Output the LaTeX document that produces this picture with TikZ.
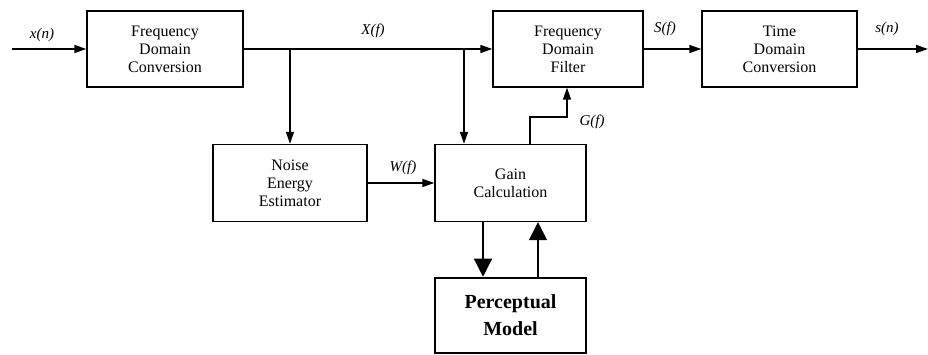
\documentclass[tikz,border=0pt]{standalone}
\usepackage{fontspec}
\setmainfont{Liberation Serif}
\usepackage{tikz}
\usetikzlibrary{arrows.meta,positioning}

\begin{document}
\begin{tikzpicture}[x=1pt, y=-1pt,
  every node/.style={font=\fontsize{16}{18}\selectfont},
  block/.style={draw, line width=1.4pt, align=center, inner sep=0pt},
  sig/.style={font=\fontsize{15}{17}\selectfont\itshape},
  flow/.style={line width=1.4pt, -{Triangle[length=12pt,width=8pt]}},
  bigflow/.style={line width=1.4pt, -{Triangle[length=18pt,width=18pt]}}]
\useasboundingbox (0,0) rectangle (928,355);
% Blocks, top row
\node[block, minimum width=156pt, minimum height=76pt] (fdc) at (165,49) {Frequency\\Domain\\Conversion};
\node[block, minimum width=150pt, minimum height=76pt] (fdf) at (568,49) {Frequency\\Domain\\Filter};
\node[block, minimum width=155pt, minimum height=76pt] (tdc) at (779.5,49) {Time\\Domain\\Conversion};
% Blocks, middle row
\node[block, minimum width=154pt, minimum height=77pt] (nee) at (290,183) {Noise\\Energy\\Estimator};
\node[block, minimum width=151pt, minimum height=77pt] (gain) at (510.5,183) {Gain\\Calculation};
% Perceptual model
\node[block, line width=2.6pt, minimum width=151pt, minimum height=75pt,
  font=\fontsize{20}{27}\selectfont\bfseries] (pm) at (510.5,315.5) {Perceptual\\Model};
% Free ends and corners
\coordinate (in) at (12,49);
\coordinate (out) at (928,49);
\coordinate (b2) at (464,49);
\coordinate (g1) at (530,117);
\coordinate (g2) at (567,117);
\coordinate (p1) at (483,0);
\coordinate (p2) at (538,0);
% Main path
\draw[flow] (in) -- (fdc);
\draw[flow] (fdc) -- (fdf);
\draw[flow] (fdf) -- (tdc);
\draw[flow] (tdc) -- (out);
% Branches of X(f)
\draw[flow] (nee.north |- fdc.east) -- (nee.north);
\draw[flow] (b2) -- (b2 |- gain.north);
% Gain paths
\draw[flow] (nee.east) -- (gain.west);
\draw[flow] (g1 |- gain.north) -- (g1) -- (g2) -- (g2 |- fdf.south);
\draw[bigflow] (p1 |- gain.south) -- (p1 |- pm.north);
\draw[bigflow] (p2 |- pm.north) -- (p2 |- gain.south);
% Signal labels
\node[sig] (xn) at (42,35) {x(n)};
\node[sig] (Xf) at (373,31) {X(f)};
\node[sig] (Sf) at (665,29) {S(f)};
\node[sig] (sn) at (887,29) {s(n)};
\node[sig] (Wf) at (403,168) {W(f)};
\node[sig] (Gf) at (592,122) {G(f)};
\end{tikzpicture}
\end{document}
